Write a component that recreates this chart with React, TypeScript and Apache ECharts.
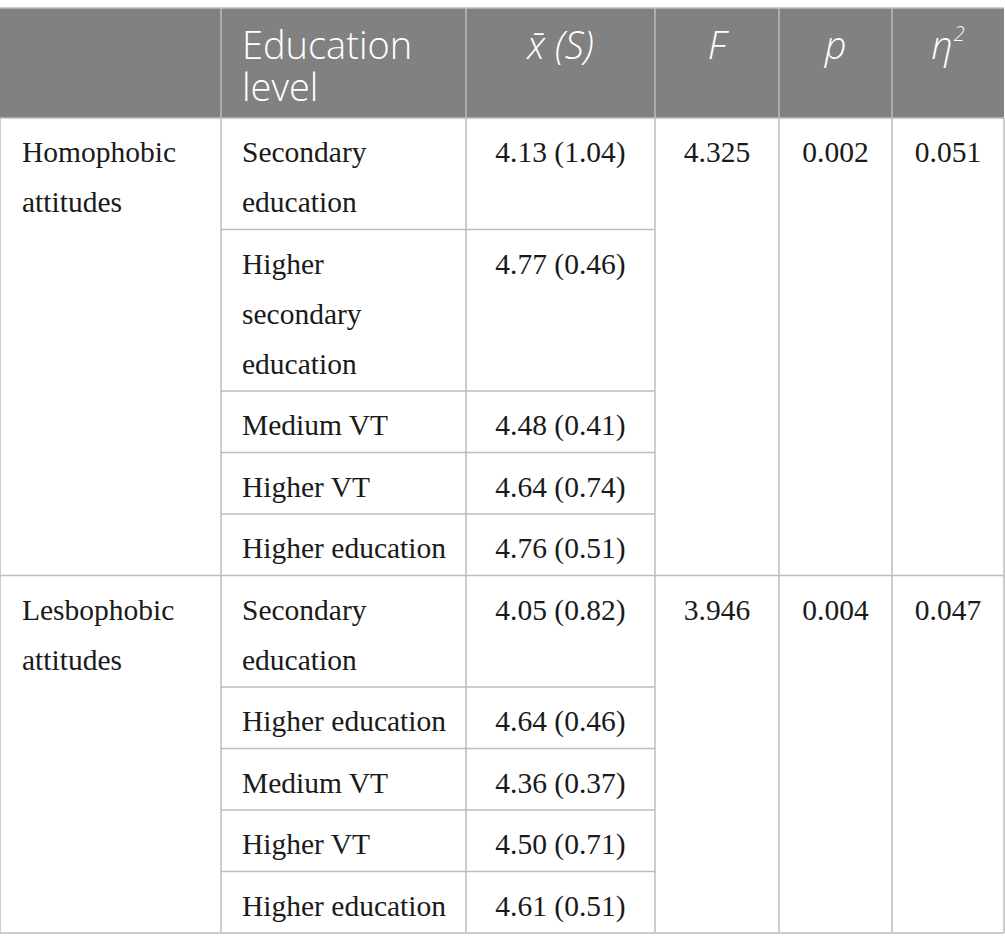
import React, { useEffect, useRef } from "react";
import * as echarts from "echarts";

const groups = ["Homophobic\nattitudes", "Lesbophobic\nattitudes"];
const levels = [
  ["Secondary\neducation", "Higher\nsecondary\neducation", "Medium VT", "Higher VT", "Higher education"],
  ["Secondary\neducation", "Higher education", "Medium VT", "Higher VT", "Higher education"],
];
const means = [
  ["4.13", "4.77", "4.48", "4.64", "4.76"],
  ["4.05", "4.64", "4.36", "4.50", "4.61"],
];
const sds = [
  ["1.04", "0.46", "0.41", "0.74", "0.51"],
  ["0.82", "0.46", "0.37", "0.71", "0.51"],
];
const fValues = ["4.325", "3.946"];
const pValues = ["0.002", "0.004"];
const etaValues = ["0.051", "0.047"];
const headerLevel = ["Education", "level"];

const COLS = [0, 221, 466, 655, 779, 892, 1004];
const TOP = 8;
const HEAD_H = 110;
const LINE_H = 50;
const ROW_BASE = 61.5;
const BORDER = "#bdbdbd";
const HEAD_BG = "#808180";
const SERIF = "'Liberation Serif', 'Times New Roman', serif";
const SANS = "'Open Sans', sans-serif";
const BODY_SIZE = 29.5;
const HEAD_SIZE = 38;

function buildGraphics() {
  const els: any[] = [];
  const lines: any[] = [];
  const W = COLS[COLS.length - 1];
  els.push({ type: "rect", shape: { x: COLS[0], y: TOP, width: W - COLS[0], height: HEAD_H }, style: { fill: HEAD_BG } });
  const headStyle = { fill: "#ffffff", fontFamily: SANS, fontSize: HEAD_SIZE, fontWeight: 300, lineHeight: 40 };
  const hy = TOP + 36;
  headerLevel.forEach((t, i) => {
    els.push({ type: "text", x: COLS[1] + 21, y: hy + i * 42, style: { ...headStyle, text: t, verticalAlign: "middle", textAlign: "left" } });
  });
  els.push({ type: "text", x: (COLS[2] + COLS[3]) / 2, y: hy, style: { ...headStyle, text: "x\u0304 (S)", fontStyle: "italic", textAlign: "center", verticalAlign: "middle" } });
  els.push({ type: "text", x: (COLS[3] + COLS[4]) / 2, y: hy, style: { ...headStyle, text: "F", fontStyle: "italic", textAlign: "center", verticalAlign: "middle" } });
  els.push({ type: "text", x: (COLS[4] + COLS[5]) / 2, y: hy, style: { ...headStyle, text: "p", fontStyle: "italic", textAlign: "center", verticalAlign: "middle" } });
  els.push({
    type: "text", x: (COLS[5] + COLS[6]) / 2, y: hy,
    style: {
      text: "{e|η}{s|2}", textAlign: "center", verticalAlign: "middle",
      rich: {
        e: { fill: "#fff", fontFamily: SANS, fontSize: HEAD_SIZE, fontStyle: "italic", fontWeight: 300 },
        s: { fill: "#fff", fontFamily: SANS, fontSize: 20, fontStyle: "italic", fontWeight: 300, verticalAlign: "top", padding: [0, 0, 22, 1] },
      },
    },
  });
  for (let i = 1; i < COLS.length - 1; i++) {
    lines.push({ x1: COLS[i], y1: TOP, x2: COLS[i], y2: TOP + HEAD_H });
  }
  lines.push({ x1: 0, y1: TOP, x2: W, y2: TOP });
  lines.push({ x1: 0, y1: TOP + HEAD_H, x2: W, y2: TOP + HEAD_H });

  const bodyStyle = { fill: "#1a1a1a", fontFamily: SERIF, fontSize: BODY_SIZE, lineHeight: LINE_H };
  let y = TOP + HEAD_H;
  groups.forEach((g, gi) => {
    const gTop = y;
    els.push({ type: "text", x: COLS[0] + 22, y: gTop + 9, style: { ...bodyStyle, text: g, textAlign: "left", verticalAlign: "top" } });
    els.push({ type: "text", x: (COLS[3] + COLS[4]) / 2, y: gTop + 9, style: { ...bodyStyle, text: fValues[gi], textAlign: "center", verticalAlign: "top" } });
    els.push({ type: "text", x: (COLS[4] + COLS[5]) / 2, y: gTop + 9, style: { ...bodyStyle, text: pValues[gi], textAlign: "center", verticalAlign: "top" } });
    els.push({ type: "text", x: (COLS[5] + COLS[6]) / 2, y: gTop + 9, style: { ...bodyStyle, text: etaValues[gi], textAlign: "center", verticalAlign: "top" } });
    levels[gi].forEach((lv, li) => {
      const n = lv.split("\n").length;
      const h = ROW_BASE + LINE_H * (n - 1);
      els.push({ type: "text", x: COLS[1] + 21, y: y + 9, style: { ...bodyStyle, text: lv, textAlign: "left", verticalAlign: "top" } });
      els.push({ type: "text", x: (COLS[2] + COLS[3]) / 2, y: y + 9, style: { ...bodyStyle, text: `${means[gi][li]} (${sds[gi][li]})`, textAlign: "center", verticalAlign: "top" } });
      y += h;
      if (li < levels[gi].length - 1) lines.push({ x1: COLS[1], y1: y, x2: COLS[3], y2: y });
    });
    lines.push({ x1: 0, y1: y, x2: W, y2: y });
    for (let i = 0; i < COLS.length; i++) {
      lines.push({ x1: COLS[i], y1: gTop, x2: COLS[i], y2: y });
    }
  });
  lines.forEach((s) => {
    els.push({ type: "line", shape: s, style: { stroke: BORDER, lineWidth: 1.5 }, z: 10 });
  });
  return els;
}

export default function App() {
  const ref = useRef<HTMLDivElement>(null);
  useEffect(() => {
    document.body.style.margin = "0";
    const chart = echarts.init(ref.current!, null, { renderer: "svg" });
    chart.setOption({ animation: false, graphic: { elements: buildGraphics() } });
    return () => chart.dispose();
  }, []);
  return <div ref={ref} style={{ width: 1005, height: 951, background: "#fff" }} />;
}
